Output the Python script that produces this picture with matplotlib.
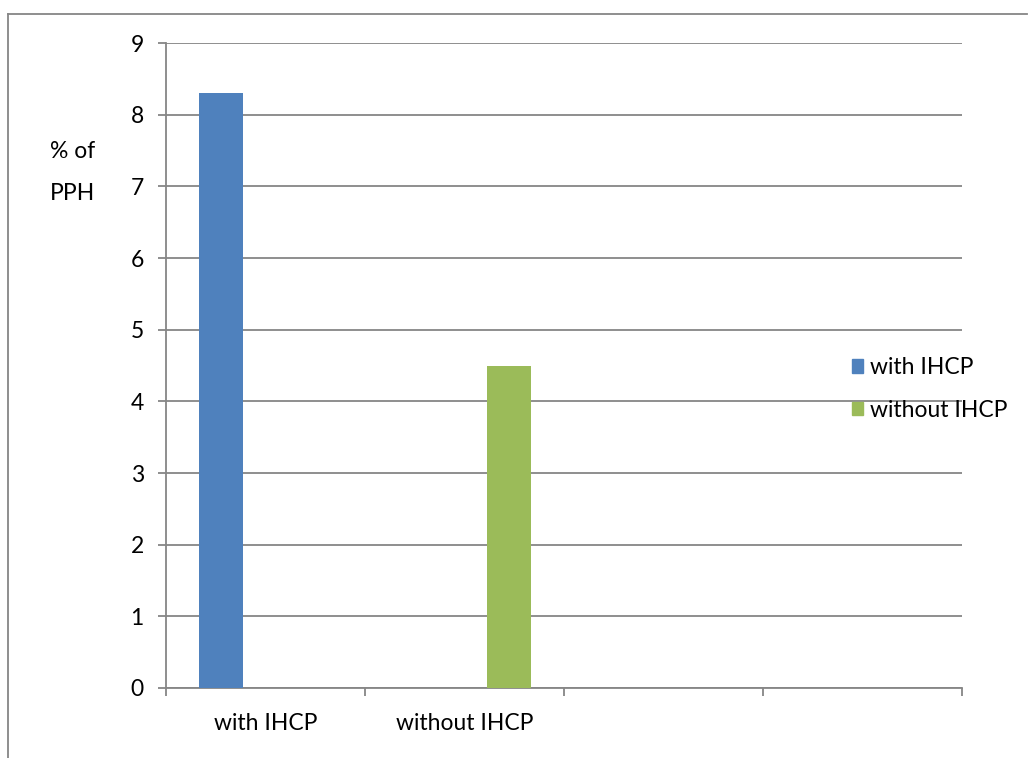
import matplotlib
matplotlib.use("Agg")
import matplotlib.pyplot as plt
from matplotlib.lines import Line2D
from matplotlib.patches import Patch

# Datos: % de PPH por grupo
categorias = ["with IHCP", "without IHCP", "", ""]
series = ["with IHCP", "without IHCP"]
valores_con = [8.3, None, None, None]
valores_sin = [None, 4.5, None, None]
colores = ["#4F81BD", "#9BBB59"]
yticks = list(range(0, 10))

plt.rcParams["font.family"] = ["Lato", "DejaVu Sans"]
FS = 16.5
GRIS = "#868686"

W, H = 1028, 758
fig = plt.figure(figsize=(W / 100, H / 100), dpi=100)

# area de trazado en pixeles
x0, x1, ytop, ybot = 166, 962, 43, 688
ax = fig.add_axes([x0 / W, 1 - ybot / H, (x1 - x0) / W, (ybot - ytop) / H])

n = len(categorias)
w = 1 / 4.5   # tres series por categoria + 150% de separacion
for i in range(n):
    if valores_con[i] is not None:
        ax.bar(i - w, valores_con[i], width=w, color=colores[0], zorder=3)
    if valores_sin[i] is not None:
        ax.bar(i + w, valores_sin[i], width=w, color=colores[1], zorder=3)

ax.set_xlim(-0.5, n - 0.5)
ax.set_ylim(0, 9)
ax.set_yticks(yticks)
ax.yaxis.grid(True, color=GRIS, lw=1.3, zorder=0)
ax.set_axisbelow(True)

# ticks mayores en los limites de categoria, etiquetas en los centros
ax.set_xticks([i - 0.5 for i in range(n + 1)])
ax.set_xticklabels([])
ax.set_xticks(range(n), minor=True)
ax.set_xticklabels(categorias, minor=True, fontsize=FS)
ax.tick_params(axis="x", which="major", length=6, width=1.3, color=GRIS)
ax.tick_params(axis="x", which="minor", length=0, pad=18)
ax.tick_params(axis="y", length=6, width=1.3, color=GRIS, labelsize=FS, pad=10)

for s in ["top", "right"]:
    ax.spines[s].set_visible(False)
for s in ["left", "bottom"]:
    ax.spines[s].set_color(GRIS)
    ax.spines[s].set_linewidth(1.3)

fig.text(50 / W, 1 - 152 / H, "% of", fontsize=FS, va="center", ha="left")
fig.text(50 / W, 1 - 193 / H, "PPH", fontsize=FS, va="center", ha="left")

handles = [Patch(color=c, label=l) for c, l in zip(colores, series)]
fig.legend(handles=handles, loc="center left", frameon=False, fontsize=FS,
           bbox_to_anchor=(852 / W, 1 - 389 / H), handlelength=0.5,
           handleheight=0.5, handletextpad=0.3, labelspacing=0.95,
           borderpad=0, borderaxespad=0)

# marco exterior del grafico
fig.add_artist(Line2D([8 / W, 1027 / W], [1 - 14 / H, 1 - 14 / H],
                      transform=fig.transFigure, color=GRIS, lw=1.3))
fig.add_artist(Line2D([8 / W, 8 / W], [1 - 14 / H, 0],
                      transform=fig.transFigure, color=GRIS, lw=1.3))

fig.savefig("out.png", dpi=100)
